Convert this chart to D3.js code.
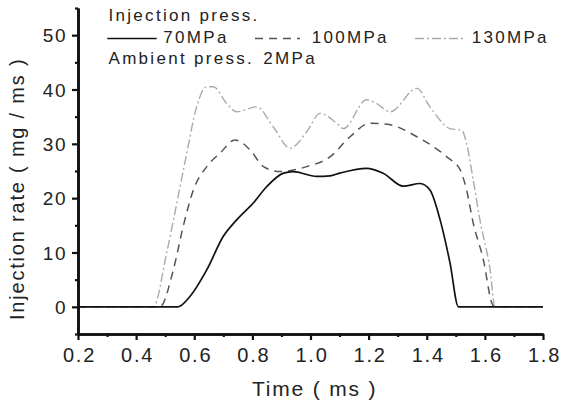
<!DOCTYPE html>
<html><head><meta charset="utf-8">
<script src="https://cdn.jsdelivr.net/npm/d3@7"></script>
<style>
html,body{margin:0;padding:0;background:#fff;}
text{font-family:"Liberation Sans",Arial,sans-serif;fill:#222;}
</style></head>
<body><svg id="c" width="561" height="407"></svg>
<script>
const xTicks = [0.2,0.4,0.6,0.8,1.0,1.2,1.4,1.6,1.8];
const yTicks = [0,10,20,30,40,50];
const time70 = [0.2,0.544,0.585,0.643,0.699,0.746,0.803,0.849,0.907,0.94,1.021,1.067,1.10,1.193,1.25,1.319,1.377,1.411,1.446,1.48,1.509,1.8];
const rate70 = [0,0,1.9,6.8,12.9,16.0,19.1,22.1,24.6,24.9,24.0,24.1,24.6,25.5,24.6,22.2,22.7,21.5,16,8.1,0,0];
const time100 = [0.2,0.482,0.528,0.562,0.597,0.643,0.689,0.74,0.792,0.838,0.895,0.987,1.067,1.136,1.205,1.274,1.366,1.469,1.515,1.537,1.56,1.595,1.624,1.632,1.8];
const rate100 = [0,0,6.8,14.8,21.5,25.8,28.3,30.7,28.9,25.8,24.9,25.8,27.6,31.3,33.8,33.5,31.3,27.6,25.2,21.5,15.4,8.6,0.7,0,0];
const time130 = [0.2,0.459,0.505,0.54,0.574,0.608,0.643,0.666,0.712,0.746,0.815,0.872,0.93,0.987,1.033,1.09,1.113,1.193,1.228,1.274,1.366,1.411,1.48,1.52,1.537,1.56,1.583,1.618,1.635,1.8];
const rate130 = [0,0,9.9,19.1,28.2,36.8,40.5,40.5,37.4,35.9,36.8,33.1,29.2,32.2,35.6,33.8,32.8,38.1,37.4,35.9,40.2,36.8,32.8,32.5,30.1,23.3,16,6.8,0,0];
const seriesNames = ["70MPa","100MPa","130MPa"];

const svg = d3.select("#c");
const x = d3.scaleLinear().domain([0.2,1.8]).range([78,543]);
const y = d3.scaleLinear().domain([-5,55]).range([334,8]);

const styles = [
  {stroke:"#111", dash:null, w:1.7},
  {stroke:"#555", dash:"8,6", w:1.5},
  {stroke:"#aaa", dash:"9,3,2,3", w:1.4}
];
const data = [
  time70.map((t,i)=>[t,rate70[i]]),
  time100.map((t,i)=>[t,rate100[i]]),
  time130.map((t,i)=>[t,rate130[i]])
];
const line = d3.line().x(d=>x(d[0])).y(d=>y(d[1])).curve(d3.curveMonotoneX);
[2,1,0].forEach(k=>{
  svg.append("path").attr("d", line(data[k])).attr("fill","none")
    .attr("stroke", styles[k].stroke).attr("stroke-width", styles[k].w)
    .attr("stroke-dasharray", styles[k].dash);
});

// axes
const xAxis = svg.append("g").attr("transform","translate(0,334)")
  .call(d3.axisBottom(x).tickValues(xTicks).tickFormat(d3.format(".1f")).tickSize(6).tickSizeOuter(0));
const xMinor = svg.append("g").attr("transform","translate(0,334)")
  .call(d3.axisBottom(x).tickValues([0.3,0.5,0.7,0.9,1.1,1.3,1.5,1.7]).tickFormat("").tickSize(3).tickSizeOuter(0));
const yAxis = svg.append("g").attr("transform","translate(78,0)")
  .call(d3.axisLeft(y).tickValues(yTicks).tickSize(6).tickSizeOuter(0));
const yMinor = svg.append("g").attr("transform","translate(78,0)")
  .call(d3.axisLeft(y).tickValues([-5,5,15,25,35,45,55]).tickFormat("").tickSize(3).tickSizeOuter(0));
[xAxis,xMinor,yAxis,yMinor].forEach(g=>{
  g.select(".domain").attr("stroke","#111").attr("stroke-width",2.6);
  g.selectAll(".tick line").attr("stroke","#111").attr("stroke-width",2.2);
});
xAxis.selectAll(".tick text").attr("font-size",20).attr("letter-spacing","1.8px")
  .attr("y",null).attr("dy",null).attr("transform","translate(1,28)").attr("fill","#222");
yAxis.selectAll(".tick text").attr("font-size",19).attr("letter-spacing","1.5px")
  .attr("x",-11).attr("dy","0.35em").attr("fill","#222");

// axis titles
svg.append("text").attr("x",252).attr("y",396).attr("font-size",21).attr("letter-spacing","1.8px")
  .text("Time ( ms )");
svg.append("text").attr("transform","translate(23.5,320) rotate(-90)").attr("font-size",20)
  .attr("letter-spacing","1.8px").text("Injection rate ( mg / ms )");

// legend
const lf = 17, ls = "2.3px";
svg.append("text").attr("x",108.5).attr("y",20.5).attr("font-size",lf).attr("letter-spacing",ls).text("Injection press.");
const legX = [[107.3,156.7,163.3],[255,300,311.7],[415,465,471.7]];
legX.forEach((p,k)=>{
  svg.append("line").attr("x1",p[0]).attr("x2",p[1]).attr("y1",38.5).attr("y2",38.5)
    .attr("stroke",styles[k].stroke).attr("stroke-width",styles[k].w).attr("stroke-dasharray",styles[k].dash);
  svg.append("text").attr("x",p[2]).attr("y",43).attr("font-size",lf).attr("letter-spacing",ls).text(seriesNames[k]);
});
svg.append("text").attr("x",108.5).attr("y",64).attr("font-size",lf).attr("letter-spacing",ls).text("Ambient press.");
svg.append("text").attr("x",263.3).attr("y",64).attr("font-size",lf).attr("letter-spacing",ls).text("2MPa");
</script></body></html>
